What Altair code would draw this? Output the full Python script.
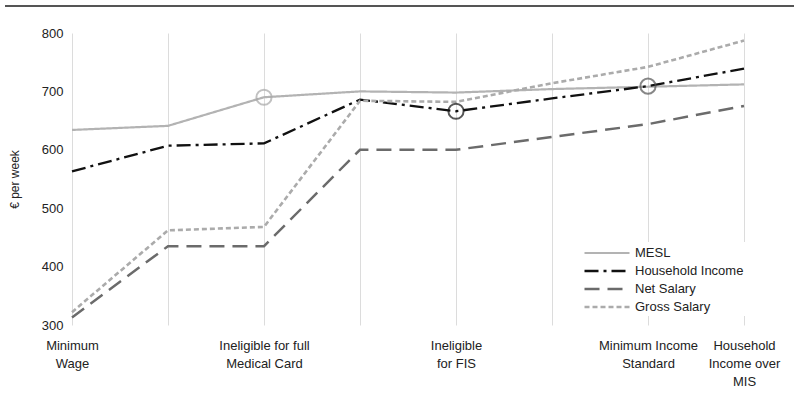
import altair as alt
import pandas as pd

# Household stages along the x axis (evenly spaced steps)
stages = [0, 1, 2, 3, 4, 5, 6, 7]

# Weekly amounts (€) for each series at each stage
mesl = [634, 641, 690, 700, 698, 704, 708, 712]
household_income = [563, 607, 611, 686, 666, 688, 709, 739]
net_salary = [313, 435, 435, 600, 600, 622, 644, 675]
gross_salary = [322, 462, 468, 684, 682, 714, 742, 787]

series_names = ["MESL", "Household Income", "Net Salary", "Gross Salary"]
series_colors = ["#b3b3b3", "#111111", "#6b6b6b", "#ababab"]
series_dashes = [[1, 0], [14, 5, 3, 5], [15, 8], [5, 3]]
series_widths = [2.2, 2.6, 2.4, 2.0]

# Labelled stages on the x axis
label_stages = [0, 2, 4, 6, 7]
label_lines = [
    ["Minimum", "Wage"],
    ["Ineligible for full", "Medical Card"],
    ["Ineligible", "for FIS"],
    ["Minimum Income", "Standard"],
    ["Household", "Income over", "MIS"],
]

# Highlighted crossing points
marker_stage = [2, 4, 6]
marker_value = [690, 666, 709]
marker_color = ["#a8a8a8", "#111111", "#555555"]

values = [mesl, household_income, net_salary, gross_salary]
rows = []
for name, vals in zip(series_names, values):
    for s, v in zip(stages, vals):
        rows.append({"stage": s, "value": v, "series": name})
df = pd.DataFrame(rows)

markers = pd.DataFrame({"stage": marker_stage, "value": marker_value, "mcolor": marker_color})

expr = ""
for s, lines in zip(label_stages, label_lines):
    arr = "[" + ",".join("'" + t + "'" for t in lines) + "]"
    expr += f"datum.value == {s} ? {arr} : "
expr += "''"

FONT = "Liberation Sans Narrow, Arial Narrow, Liberation Sans, sans-serif"

x_enc = alt.X(
    "stage:Q",
    scale=alt.Scale(domain=[0, 7], nice=False, zero=False),
    axis=alt.Axis(
        values=stages,
        labelExpr=expr,
        title=None,
        grid=True,
        gridColor="#dcdcdc",
        gridWidth=1,
        domain=False,
        ticks=False,
        labelPadding=14,
        labelFont=FONT,
        labelFontSize=13,
        labelColor="#222222",
        labelLineHeight=18,
        labelBound=False,
        labelFlush=False,
        labelOverlap=False,
    ),
)
y_enc = alt.Y(
    "value:Q",
    scale=alt.Scale(domain=[300, 800], nice=False, zero=False),
    axis=alt.Axis(
        values=[300, 400, 500, 600, 700, 800],
        title="€ per week",
        titleFont=FONT,
        titleFontSize=12,
        titleFontWeight="normal",
        titleColor="#222222",
        titlePadding=20,
        grid=False,
        domain=False,
        ticks=False,
        labelPadding=9,
        labelFont=FONT,
        labelFontSize=13,
        labelColor="#222222",
    ),
)

lines = alt.Chart(df).mark_line(clip=False).encode(
    x=x_enc,
    y=y_enc,
    color=alt.Color(
        "series:N",
        scale=alt.Scale(domain=series_names, range=series_colors),
        legend=alt.Legend(
            title=None,
            orient="none",
            legendX=524,
            legendY=209,
            symbolType="M-3,0H3",
            symbolSize=225,
            symbolStrokeWidth=2.4,
            labelFont=FONT,
            labelFontSize=13,
            labelColor="#222222",
            labelOffset=19,
            rowPadding=2,
            fillColor="white",
            padding=2,
        ),
    ),
    strokeDash=alt.StrokeDash(
        "series:N",
        scale=alt.Scale(domain=series_names, range=series_dashes),
        legend=None,
    ),
    strokeWidth=alt.StrokeWidth(
        "series:N",
        scale=alt.Scale(domain=series_names, range=series_widths),
        legend=None,
    ),
    order=alt.Order("stage:Q"),
)

circles = alt.Chart(markers).mark_point(
    shape="circle", size=230, strokeWidth=2, filled=False
).encode(
    x="stage:Q",
    y="value:Q",
    stroke=alt.Stroke("mcolor:N", scale=None),
)

top_rule = alt.Chart(markers).mark_rule(color="#555555", strokeWidth=2).encode(
    x=alt.value(-67), x2=alt.value(722), y=alt.value(-27)
)

chart = (
    alt.layer(lines, circles, top_rule)
    .properties(
        width=672,
        height=292,
        autosize=alt.AutoSizeParams(type="none"),
        padding={"left": 72, "top": 33, "right": 50, "bottom": 80},
        background="white",
    )
    .configure_view(stroke=None)
)

chart.save("out.html", embed_options={"renderer": "svg", "actions": False})
